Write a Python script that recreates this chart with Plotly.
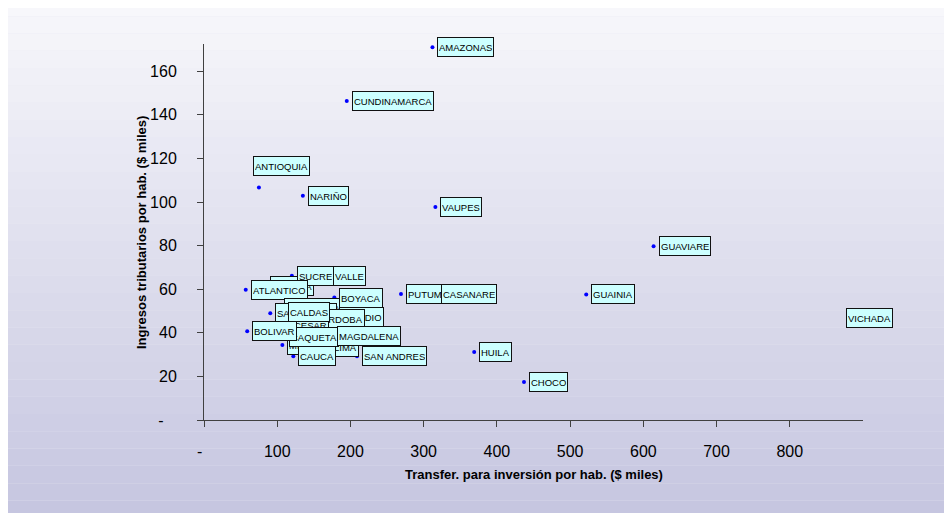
import plotly.graph_objects as go

# ---- data ----
departments = [
    "AMAZONAS", "CUNDINAMARCA", "ANTIOQUIA", "NARIÑO", "VAUPES", "GUAVIARE",
    "GUAINIA", "HUILA", "CHOCO", "VICHADA",
    "ARAUCA", "VALLE", "SUCRE", "ATLANTICO", "RISARALDA", "SANTANDER",
    "BOYACA", "QUINDIO", "CORDOBA", "CESAR", "CALDAS", "TOLIMA", "META",
    "CAQUETA", "BOLIVAR", "MAGDALENA", "CAUCA", "SAN ANDRES", "PUTUMAYO",
    "CASANARE",
]
transfer_inversion = [
    312, 195, 75, 135, 316, 614,
    522, 369, 437, 880,
    83, 169, 120, 57, 102, 90.5,
    178, 177, 141, 113, 108, 150, 107,
    109, 59, 175, 122, 209, 269,
    317,
]
ingresos_tributarios = [
    171, 146.3, 106.7, 102.9, 97.7, 79.7,
    57.6, 31.2, 17.4, 46.7,
    61.5, 66.2, 66.2, 59.8, 51.2, 49.0,
    56.2, 47.2, 46.2, 43.4, 49.5, 33.4, 34.4,
    37.9, 40.7, 38.6, 29.3, 29.3, 57.8,
    57.8,
]

x_tickvals = [0, 100, 200, 300, 400, 500, 600, 700, 800]
x_ticktext = ["-\u00a0\u00a0", "100", "200", "300", "400", "500", "600", "700", "800"]
y_tickvals = [0, 20, 40, 60, 80, 100, 120, 140, 160]
y_ticktext = ["-\u00a0\u00a0\u00a0", "20", "40", "60", "80", "100", "120", "140", "160"]

x_title = "Transfer. para inversión por hab. ($ miles)"
y_title = "Ingresos tributarios por hab. ($ miles)"

# ---- styling ----
FONT = "Liberation Sans, Arial, sans-serif"
label_offsets = {  # special label placements (pixels): name -> (xanchor, yanchor, xshift, yshift)
    "ANTIOQUIA": ("left", "bottom", -6, 11),
    "VICHADA": ("left", "middle", -2, 0),
}

fig = go.Figure()

# background gradient (slide-like)
top = (247, 247, 251)
bottom = (198, 198, 224)
n_bands = 30
for i in range(n_bands):
    t = i / (n_bands - 1)
    c = tuple(int(round(top[k] + (bottom[k] - top[k]) * t)) for k in range(3))
    fig.add_shape(type="rect", xref="paper", yref="paper", layer="below",
                  x0=-0.35, x1=1.2,
                  y0=1.12 - (i + 1) * (1.12 + 0.26) / n_bands,
                  y1=1.12 - i * (1.12 + 0.26) / n_bands,
                  line=dict(width=0), fillcolor="rgb(%d,%d,%d)" % c)

fig.add_trace(go.Scatter(
    x=transfer_inversion, y=ingresos_tributarios, mode="markers",
    marker=dict(color="#0000FF", size=4, symbol="circle"),
    hoverinfo="text", text=departments, cliponaxis=False,
))

for name, xv, yv in zip(departments, transfer_inversion, ingresos_tributarios):
    xa, ya, xs, ys = label_offsets.get(name, ("left", "middle", 5, 0))
    fig.add_annotation(
        x=xv, y=yv, xref="x", yref="y", text=name, showarrow=False,
        xanchor=xa, yanchor=ya, xshift=xs, yshift=ys,
        font=dict(family=FONT, size=9.5, color="#000000"),
        height=16, valign="middle",
        bgcolor="#CCFFFF", bordercolor="#111111", borderwidth=1, borderpad=1,
    )

fig.add_annotation(x=0.5, y=-0.146, xref="paper", yref="paper", text="<b>%s</b>" % x_title,
                   showarrow=False, xanchor="center", yanchor="middle",
                   font=dict(family=FONT, size=13, color="#000000"))
fig.add_annotation(x=-0.0956, y=0.5, xref="paper", yref="paper", text="<b>%s</b>" % y_title,
                   showarrow=False, xanchor="center", yanchor="middle", textangle=-90,
                   font=dict(family=FONT, size=13, color="#000000"))

axis_common = dict(showgrid=False, zeroline=False, showline=True, linecolor="#404040",
                   linewidth=1, ticks="outside", ticklen=6, tickcolor="#404040",
                   tickfont=dict(family=FONT, size=16, color="#000000"))

fig.update_xaxes(range=[0, 900], tickmode="array", tickvals=x_tickvals, ticktext=x_ticktext,
                 ticklabelstandoff=11, **axis_common)
fig.update_yaxes(range=[0, 172.5], tickmode="array", tickvals=y_tickvals, ticktext=y_ticktext,
                 ticklabelstandoff=17, **axis_common)

# the page body adds an 8px offset, so margins are reduced by 8px on left/top
fig.update_layout(
    width=952, height=513, autosize=False,
    margin=dict(l=196, r=97, t=36, b=101),
    paper_bgcolor="#e8e8f2", plot_bgcolor="rgba(0,0,0,0)",
    showlegend=False,
)

fig.write_html("out.html")
